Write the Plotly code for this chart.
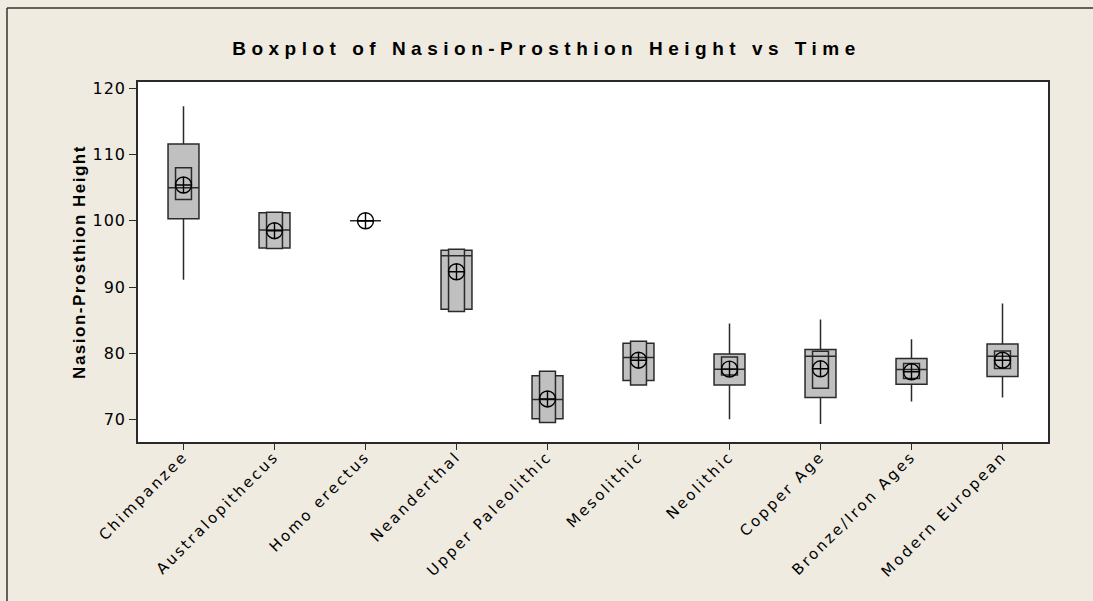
import plotly.graph_objects as go

categories = ["Chimpanzee", "Australopithecus", "Homo erectus", "Neanderthal",
              "Upper Paleolithic", "Mesolithic", "Neolithic", "Copper Age",
              "Bronze/Iron Ages", "Modern European"]
whisker_low = [91.1, 95.9, 100.0, 86.65, 70.1, 75.9, 70.05, 69.3, 72.7, 73.3]
q1 = [100.3, 95.9, 100.0, 86.65, 70.1, 75.9, 75.2, 73.3, 75.3, 76.5]
median = [105.0, 98.6, 100.0, 94.7, 73.0, 79.35, 77.6, 79.55, 77.55, 79.55]
q3 = [111.6, 101.2, 100.0, 95.55, 76.6, 81.5, 79.9, 80.55, 79.2, 81.4]
whisker_high = [117.3, 101.2, 100.0, 95.55, 76.6, 81.5, 84.5, 85.1, 82.1, 87.5]
ci_low = [103.2, 95.8, 100.0, 86.3, 69.55, 75.2, 76.7, 74.7, 76.2, 77.7]
ci_high = [108.0, 101.3, 100.0, 95.7, 77.3, 81.8, 79.45, 80.3, 78.45, 80.35]
mean = [105.4, 98.5, 100.0, 92.3, 73.1, 78.95, 77.6, 77.65, 77.2, 78.95]
y_ticks = [70, 80, 90, 100, 110, 120]

BOX_FILL = "#C0C0C0"
EDGE = "#2a2a2a"
BG = "#EFEBE0"

fig = go.Figure()

fig.add_trace(go.Box(
    x=categories, q1=q1, median=median, q3=q3,
    lowerfence=whisker_low, upperfence=whisker_high,
    width=0.34, whiskerwidth=0, fillcolor=BOX_FILL,
    line=dict(color=EDGE, width=1.5), boxpoints=False, showlegend=False,
))

fig.add_trace(go.Box(
    x=categories, q1=ci_low, median=median, q3=ci_high,
    lowerfence=ci_low, upperfence=ci_high,
    width=0.175, whiskerwidth=0, fillcolor=BOX_FILL,
    line=dict(color=EDGE, width=1.5), boxpoints=False, showlegend=False,
))

fig.add_trace(go.Scatter(
    x=categories, y=mean, mode="markers",
    marker=dict(symbol="circle-cross-open", size=16,
                color="black", line=dict(color="black", width=1.4)),
    showlegend=False,
))

L, R, T, B = 138, 45, 82, 159
W, H = 1093, 601
pw, ph = W - L - R, H - T - B
px0 = (7 - L) / pw
py1 = 1 + (T - 8) / ph
pyb = -(H - T - ph) / ph - 0.01
pxr = 1 + (R + 5) / pw

fig.update_layout(
    width=W, height=H, autosize=False,
    margin=dict(l=L, r=R, t=T, b=B, pad=0),
    paper_bgcolor=BG, plot_bgcolor="white",
    boxmode="overlay",
    title=dict(text="<b>Boxplot of Nasion-Prosthion Height vs Time</b>",
               x=0.5, xref="container", xanchor="center",
               y=1 - 48 / H, yref="container", yanchor="middle",
               font=dict(family="Liberation Sans", size=19, color="black")),
    font=dict(family="DejaVu Sans", color="black"),
    shapes=[
        dict(type="line", xref="paper", yref="paper", x0=px0, x1=px0,
             y0=pyb, y1=py1, line=dict(color="#333333", width=1.5)),
        dict(type="line", xref="paper", yref="paper", x0=px0, x1=pxr,
             y0=py1, y1=py1, line=dict(color="#333333", width=1.5)),
    ],
)

fig.update_xaxes(
    type="category", range=[-0.5, 9.5], tickangle=-45,
    ticks="outside", ticklen=6, tickcolor=EDGE, tickwidth=1.3,
    showline=True, mirror=True, linecolor=EDGE, linewidth=1.5,
    showgrid=False, zeroline=False, ticklabelstandoff=-8,
    tickfont=dict(family="DejaVu Sans", size=15, color="black"),
)
fig.update_yaxes(
    range=[66.6, 120.95], tickvals=y_ticks,
    ticks="outside", ticklen=7, tickcolor=EDGE, tickwidth=1.3,
    showline=True, mirror=True, linecolor=EDGE, linewidth=1.5,
    showgrid=False, zeroline=False,
    tickfont=dict(family="DejaVu Sans", size=16, color="black"),
    title=dict(text="<b>Nasion-Prosthion Height</b>", standoff=6,
               font=dict(family="Liberation Sans", size=17, color="black")),
)

post = """
document.body.style.margin = '0';
document.body.style.overflow = 'hidden';
var gd = document.getElementById('{plot_id}');
function sp(sel, v) {
  gd.querySelectorAll(sel).forEach(function(t){ t.style.letterSpacing = v; });
}
sp('.gtitle', '5.5px');
sp('.xtick text', '2.5px');
sp('.ytick text', '1px');
sp('.ytitle', '1.5px');
"""

fig.write_html("out.html", post_script=post, config={"displayModeBar": False})
